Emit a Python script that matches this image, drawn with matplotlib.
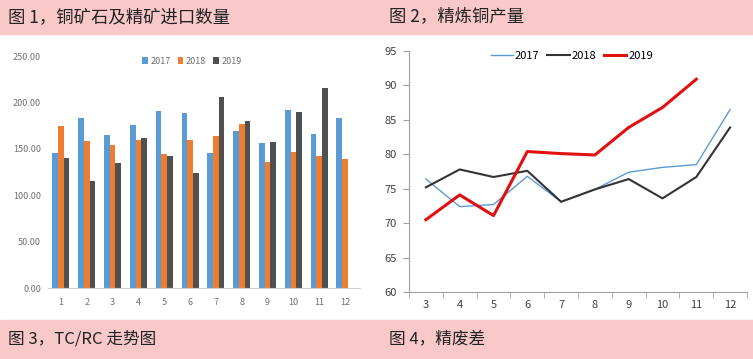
import matplotlib.pyplot as plt
import numpy as np

plt.rcParams['font.family'] = ['Noto Sans CJK SC', 'DejaVu Sans']

# Figure 1: copper ore & concentrate imports (monthly)
months = np.arange(1, 13)
imp_2017 = [146, 183, 165, 176, 191, 189, 146, 169, 156, 192, 166, 183]
imp_2018 = [175, 158, 154, 160, 144, 160, 164, 177, 136, 147, 142, 139]
imp_2019 = [140, 115, 135, 162, 142, 124, 206, 180, 157, 190, 215]

# Figure 2: refined copper output
m2 = np.arange(3, 13)
out_2017 = [76.4, 72.4, 72.7, 76.8, 73.1, 74.9, 77.4, 78.1, 78.5, 86.5]
out_2018 = [75.2, 77.8, 76.7, 77.6, 73.1, 74.9, 76.4, 73.6, 76.7, 83.9]
out_2019 = [70.5, 74.1, 71.1, 80.4, 80.1, 79.9, 83.9, 86.8, 90.9]

pink = '#f9c8c8'
fig = plt.figure(figsize=(7.53, 3.59), dpi=100)

# header bands
fig.patches.append(plt.Rectangle((0, 1 - 34/359), 1, 34/359, transform=fig.transFigure,
                                 color=pink, zorder=0))
fig.patches.append(plt.Rectangle((0, 1 - 358/359), 1, 38/359, transform=fig.transFigure,
                                 color=pink, zorder=0))
fig.text(8/753, 1 - 17/359, '图 1，铜矿石及精矿进口数量', fontsize=12.5, va='center', color='#222222')
fig.text(389/753, 1 - 17/359, '图 2，精炼铜产量', fontsize=12.5, va='center', color='#222222')
fig.text(8/753, 1 - 339/359, '图 3，TC/RC 走势图', fontsize=12, va='center', color='#222222')
fig.text(389/753, 1 - 339/359, '图 4，精废差', fontsize=12, va='center', color='#222222')

# left: bar chart
ax1 = fig.add_axes([48/753, 1 - 288/359, 312/753, 232/359])
w = 0.22
ax1.bar(months - w, imp_2017, w, color='#5b9bd5', label='2017')
ax1.bar(months, imp_2018, w, color='#ed7d31', label='2018')
ax1.bar(months[:len(imp_2019)] + w, imp_2019, w, color='#505050', label='2019')
ax1.set_xlim(0.5, 12.58)
ax1.set_ylim(0, 250)
ax1.set_yticks(np.arange(0, 251, 50))
ax1.set_yticklabels(['%.2f' % v for v in np.arange(0, 251, 50)])
ax1.set_xticks(months)
for s in ['top', 'right', 'left']:
    ax1.spines[s].set_visible(False)
ax1.spines['bottom'].set_color('#d0d0d0')
ax1.tick_params(length=0, labelsize=6.5, colors='#707070')
ax1.tick_params(axis='x', pad=7)
ax1.tick_params(axis='y', pad=5)
ax1.legend(loc='center', bbox_to_anchor=(192/753, 1 - 61/359), bbox_transform=fig.transFigure,
           ncol=3, frameon=False, fontsize=6.5, handlelength=0.6, handleheight=0.7,
           handletextpad=0.3, columnspacing=0.8, labelcolor='#707070')

# right: line chart
ax2 = fig.add_axes([409/753, 1 - 292/359, 338/753, 241/359])
ax2.plot(m2, out_2017, color='#5b9bd5', lw=1.0, label='2017')
ax2.plot(m2, out_2018, color='#333333', lw=1.5, label='2018')
ax2.plot(m2[:len(out_2019)], out_2019, color='#e01010', lw=2.2, label='2019')
ax2.set_xlim(2.5, 12.5)
ax2.set_ylim(60, 95)
ax2.set_xticks(m2)
ax2.set_xticks(np.arange(2.5, 12.6, 1), minor=True)
ax2.set_yticks(np.arange(60, 96, 5))
for s in ['top', 'right']:
    ax2.spines[s].set_visible(False)
for s in ['left', 'bottom']:
    ax2.spines[s].set_color('#a0a0a0')
ax2.tick_params(axis='x', which='major', length=0, pad=6)
ax2.tick_params(axis='x', which='minor', length=4, color='#a0a0a0')
ax2.tick_params(axis='y', length=4, color='#a0a0a0')
ax2.tick_params(labelsize=8, colors='#404040')
ax2.tick_params(axis='x', colors='#a0a0a0', labelcolor='#404040')
ax2.tick_params(axis='y', colors='#a0a0a0', labelcolor='#404040', pad=5)
ax2.legend(loc='center', bbox_to_anchor=(572/753, 1 - 56/359), bbox_transform=fig.transFigure,
           ncol=3, frameon=False, fontsize=8, handlelength=2.0, handletextpad=0.2,
           columnspacing=0.7)

fig.savefig('out.png', dpi=100)
